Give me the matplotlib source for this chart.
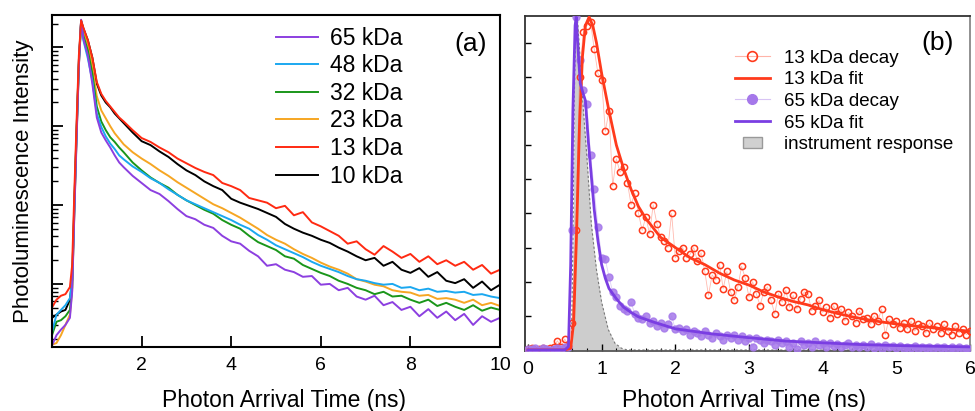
"""
Photoluminescence decay traces: (a) molecular weight series on a log axis,
(b) 13 kDa vs 65 kDa decays with fits and instrument response
"""
import numpy as np
import matplotlib
matplotlib.use("Agg")
import matplotlib.pyplot as plt
import matplotlib.patches as mpatches
from matplotlib.lines import Line2D
from matplotlib.legend_handler import HandlerPatch
from matplotlib.ticker import NullFormatter, MultipleLocator

plt.rcParams['font.family'] = ['Liberation Sans', 'DejaVu Sans']

# ---- panel (a): log10 of counts ----
T_A = [0.0, 0.1, 0.2, 0.3, 0.4, 0.45, 0.5, 0.55, 0.6, 0.65, 0.7, 0.8, 0.9, 1.0, 1.1,
       1.2, 1.3, 1.4, 1.5, 1.6, 1.8, 2.0, 2.2, 2.4, 2.6, 2.8, 3.0, 3.2, 3.4, 3.6, 3.8,
       4.0, 4.2, 4.4, 4.6, 4.8, 5.0, 5.2, 5.4, 5.6, 5.8, 6.0, 6.2, 6.4, 6.6, 6.8, 7.0,
       7.2, 7.4, 7.6, 7.8, 8.0, 8.2, 8.4, 8.6, 8.8, 9.0, 9.2, 9.4, 9.6, 9.8, 10.0]

LOG_10KDA = [0.57, 0.61, 0.65, 0.67, 0.80, 1.05, 2.06, 2.97, 3.84, 4.34, 4.24, 4.09, 3.87, 3.54, 3.39,
             3.30, 3.24, 3.16, 3.10, 3.04, 2.92, 2.81, 2.76, 2.68, 2.61, 2.52, 2.44, 2.38, 2.30, 2.24, 2.19,
             2.08, 2.03, 1.99, 1.95, 1.90, 1.85, 1.76, 1.70, 1.65, 1.61, 1.56, 1.52, 1.46, 1.41, 1.35, 1.30,
             1.33, 1.23, 1.28, 1.18, 1.14, 1.20, 1.09, 1.15, 1.04, 1.01, 1.06, 0.95, 1.03, 0.92, 0.99]
LOG_13KDA = [0.70, 0.80, 0.85, 0.87, 0.96, 1.24, 2.19, 3.08, 3.90, 4.34, 4.25, 4.09, 3.87, 3.56, 3.41,
             3.32, 3.25, 3.18, 3.11, 3.06, 2.95, 2.85, 2.80, 2.73, 2.67, 2.59, 2.53, 2.47, 2.42, 2.38, 2.28,
             2.24, 2.19, 2.09, 2.06, 2.03, 1.96, 1.99, 1.87, 1.91, 1.78, 1.73, 1.67, 1.61, 1.51, 1.54, 1.44,
             1.37, 1.48, 1.41, 1.33, 1.38, 1.28, 1.35, 1.25, 1.30, 1.23, 1.28, 1.18, 1.24, 1.13, 1.18]
LOG_23KDA = [0.23, 0.25, 0.35, 0.48, 0.61, 0.92, 1.94, 2.89, 3.77, 4.32, 4.22, 4.03, 3.76, 3.38, 3.20,
             3.10, 3.00, 2.91, 2.84, 2.77, 2.67, 2.59, 2.52, 2.44, 2.37, 2.29, 2.22, 2.15, 2.08, 2.01, 1.96,
             1.90, 1.84, 1.77, 1.70, 1.62, 1.56, 1.51, 1.44, 1.38, 1.33, 1.27, 1.22, 1.18, 1.13, 1.06, 1.03,
             0.99, 0.97, 0.92, 0.90, 0.89, 0.85, 0.86, 0.81, 0.82, 0.80, 0.76, 0.80, 0.73, 0.76, 0.72]
LOG_32KDA = [0.35, 0.52, 0.54, 0.59, 0.67, 0.95, 1.96, 2.91, 3.78, 4.32, 4.15, 3.96, 3.67, 3.25, 3.06,
             2.95, 2.86, 2.80, 2.73, 2.67, 2.54, 2.44, 2.35, 2.28, 2.22, 2.13, 2.06, 2.00, 1.94, 1.89, 1.81,
             1.75, 1.70, 1.61, 1.53, 1.48, 1.43, 1.35, 1.32, 1.24, 1.19, 1.14, 1.10, 1.04, 1.00, 0.95, 0.92,
             0.87, 0.90, 0.84, 0.85, 0.80, 0.76, 0.80, 0.72, 0.76, 0.71, 0.67, 0.73, 0.66, 0.70, 0.67]
LOG_48KDA = [0.39, 0.61, 0.67, 0.73, 0.82, 1.05, 2.00, 2.95, 3.81, 4.33, 4.09, 3.86, 3.58, 3.16, 2.99,
             2.87, 2.78, 2.71, 2.63, 2.58, 2.49, 2.42, 2.34, 2.28, 2.20, 2.13, 2.06, 2.01, 1.96, 1.91, 1.86,
             1.81, 1.75, 1.70, 1.62, 1.56, 1.49, 1.44, 1.39, 1.34, 1.28, 1.23, 1.19, 1.15, 1.10, 1.06, 1.04,
             1.01, 0.99, 1.00, 0.95, 0.96, 0.92, 0.94, 0.90, 0.91, 0.89, 0.90, 0.86, 0.87, 0.84, 0.82]
LOG_65KDA = [0.22, 0.35, 0.42, 0.48, 0.57, 0.90, 1.91, 2.85, 3.76, 4.35, 4.11, 3.90, 3.54, 3.11, 2.92,
             2.82, 2.73, 2.63, 2.54, 2.48, 2.37, 2.28, 2.19, 2.14, 2.05, 1.95, 1.86, 1.82, 1.75, 1.71, 1.61,
             1.54, 1.51, 1.42, 1.35, 1.23, 1.25, 1.18, 1.15, 1.09, 1.10, 0.99, 1.00, 0.92, 0.95, 0.84, 0.80,
             0.85, 0.73, 0.77, 0.67, 0.71, 0.59, 0.68, 0.57, 0.65, 0.54, 0.62, 0.48, 0.59, 0.52, 0.57]

LABELS_A = ['65 kDa', '48 kDa', '32 kDa', '23 kDa', '13 kDa', '10 kDa']
COLORS_A = ['#8c3fe0', '#1ba8f0', '#1a961a', '#f6a623', '#ff2a12', '#000000']

# ---- panel (b): normalised counts, 0.05 ns bins ----
T_B = np.round(np.arange(121) * 0.05, 2)

DECAY_13 = [0.003, 0.005, 0.000, 0.004, 0.006, 0.002, 0.005, 0.010, 0.027, 0.008, 0.032, 0.012,
            0.080, 0.35, 0.80, 0.93, 0.95, 0.96, 0.88, 0.81, 0.79, 0.64, 0.70, 0.48,
            0.56, 0.52, 0.535, 0.49, 0.425, 0.46, 0.40, 0.35, 0.39, 0.34, 0.425, 0.37,
            0.33, 0.32, 0.30, 0.40, 0.27, 0.29, 0.30, 0.27, 0.28, 0.30, 0.26, 0.285,
            0.23, 0.16, 0.22, 0.205, 0.25, 0.18, 0.23, 0.17, 0.145, 0.185, 0.245, 0.21,
            0.155, 0.20, 0.165, 0.13, 0.17, 0.185, 0.145, 0.105, 0.165, 0.14, 0.175, 0.125,
            0.16, 0.12, 0.15, 0.17, 0.165, 0.115, 0.13, 0.145, 0.11, 0.125, 0.095, 0.13,
            0.105, 0.12, 0.085, 0.11, 0.10, 0.08, 0.115, 0.09, 0.095, 0.075, 0.10, 0.085,
            0.12, 0.045, 0.09, 0.075, 0.085, 0.065, 0.08, 0.06, 0.085, 0.055, 0.075, 0.07,
            0.05, 0.08, 0.06, 0.07, 0.05, 0.075, 0.055, 0.045, 0.07, 0.05, 0.06, 0.045,
            0.055]
DECAY_65 = [0.004, 0.002, 0.006, 0.000, 0.005, 0.003, 0.000, 0.004, 0.006, 0.002, 0.008, 0.010,
            0.35, 0.975, 0.85, 0.76, 0.72, 0.57, 0.47, 0.36, 0.27, 0.265, 0.215, 0.17,
            0.155, 0.13, 0.12, 0.115, 0.14, 0.105, 0.095, 0.09, 0.10, 0.08, 0.085, 0.07,
            0.08, 0.065, 0.075, 0.10, 0.06, 0.065, 0.055, 0.06, 0.045, 0.055, 0.05, 0.04,
            0.055, 0.045, 0.035, 0.05, 0.04, 0.03, 0.045, 0.035, 0.045, 0.03, 0.04, 0.025,
            0.035, 0.01, 0.035, 0.03, 0.02, 0.03, 0.025, 0.015, 0.03, 0.02, 0.025, 0.01,
            0.02, 0.003, 0.025, 0.015, 0.02, 0.01, 0.025, 0.015, 0.02, 0.01, 0.02, 0.012,
            0.018, 0.008, 0.015, 0.02, 0.01, 0.015, 0.008, 0.015, 0.01, 0.018, 0.006, 0.012,
            0.004, 0.014, 0.008, 0.012, 0.006, 0.012, 0.004, 0.01, 0.006, 0.012, 0.004, 0.01,
            0.006, 0.009, 0.002, 0.01, 0.005, 0.008, 0.003, 0.009, 0.004, 0.008, 0.003, 0.007,
            0.004]

FIT_13_T = [0.0, 0.5, 0.58, 0.62, 0.66, 0.70, 0.74, 0.78, 0.83, 0.88, 0.93, 1.0, 1.1, 1.2, 1.3,
            1.4, 1.5, 1.6, 1.8, 2.0, 2.2, 2.4, 2.6, 2.8, 3.0, 3.2, 3.4, 3.6, 3.8, 4.0, 4.2, 4.4,
            4.6, 4.8, 5.0, 5.2, 5.4, 5.6, 5.8, 6.0]
FIT_13 = [0.0, 0.0, 0.005, 0.08, 0.34, 0.66, 0.86, 0.95, 0.975, 0.95, 0.90, 0.81, 0.70, 0.60, 0.53,
          0.47, 0.42, 0.385, 0.33, 0.30, 0.27, 0.25, 0.225, 0.205, 0.19, 0.17, 0.155, 0.142, 0.132,
          0.118, 0.107, 0.097, 0.089, 0.082, 0.076, 0.071, 0.067, 0.063, 0.059, 0.055]

FIT_65_T = [0.0, 0.5, 0.55, 0.58, 0.61, 0.64, 0.655, 0.68, 0.71, 0.75, 0.78, 0.82, 0.86, 0.9, 0.95,
            1.0, 1.05, 1.1, 1.2, 1.3, 1.4, 1.5, 1.7, 2.0, 2.5, 3.0, 3.5, 4.0, 4.5, 5.0, 5.5, 6.0]
FIT_65 = [0.0, 0.0, 0.01, 0.25, 0.70, 0.95, 0.975, 0.88, 0.78, 0.75, 0.73, 0.61, 0.51, 0.41, 0.32,
          0.25, 0.21, 0.18, 0.15, 0.125, 0.11, 0.097, 0.082, 0.062, 0.047, 0.036, 0.026, 0.021,
          0.016, 0.013, 0.011, 0.009]

IRF_T = [0.0, 0.55, 0.59, 0.61, 0.63, 0.65, 0.67, 0.70, 0.75, 0.80, 0.86, 0.93, 1.0, 1.09, 1.18,
         1.27, 1.35, 6.0]
IRF = [0.0, 0.0, 0.02, 0.30, 0.75, 0.95, 0.975, 0.88, 0.71, 0.565, 0.37, 0.235, 0.14, 0.06, 0.02,
       0.005, 0.0, 0.0]

RED = '#ff3a1c'
PURPLE = '#7a3ee2'
LAVENDER = '#a578ea'

fig = plt.figure(figsize=(9.75, 4.11), dpi=100)
ax1 = fig.add_axes([52 / 975, 64 / 411, 448 / 975, 332 / 411])
ax2 = fig.add_axes([525 / 975, 60 / 411, 445 / 975, 335 / 411])

# ---------- (a) ----------
series_a = [LOG_65KDA, LOG_48KDA, LOG_32KDA, LOG_23KDA, LOG_13KDA, LOG_10KDA]
draw_order = [5, 3, 2, 1, 0, 4]
handles = [None] * 6
for i in draw_order:
    line, = ax1.plot(T_A, 10 ** np.array(series_a[i]), color=COLORS_A[i], lw=1.4,
                     label=LABELS_A[i])
    handles[i] = line

ax1.set_yscale('log')
ax1.set_xlim(0, 10)
ax1.set_ylim(10 ** 0.2, 10 ** 4.41)
ax1.set_xticks([2, 4, 6, 8, 10])
ax1.yaxis.set_major_formatter(NullFormatter())
ax1.yaxis.set_minor_formatter(NullFormatter())
ax1.tick_params(axis='both', which='major', direction='in', length=8, width=1.3,
                labelsize=14, pad=7)
ax1.tick_params(axis='y', which='minor', direction='in', length=4, width=1.0)
for sp in ax1.spines.values():
    sp.set_linewidth(1.5)
ax1.set_xlabel('Photon Arrival Time (ns)', fontsize=16.5)
ax1.xaxis.set_label_coords(0.518, -0.125)
ax1.set_ylabel('Photoluminescence Intensity', fontsize=16, labelpad=6)
ax1.legend(handles=handles, loc='upper left', bbox_to_anchor=(0.50, 0.965),
           frameon=False, fontsize=16.5, handlelength=1.85, handletextpad=0.5,
           labelspacing=0.2, borderaxespad=0, borderpad=0)
ax1.text(0.935, 0.912, '(a)', transform=ax1.transAxes, fontsize=19,
         ha='center', va='center')

# ---------- (b) ----------
ax2.fill_between(IRF_T, IRF, 0, color='#cdcdcd', lw=0, zorder=1)
ax2.plot(IRF_T, IRF, color='#777777', lw=0.8, ls=(0, (2, 2)), zorder=2)

ax2.plot(T_B, DECAY_13, color=RED, lw=0.6, alpha=0.35, zorder=3)
ax2.plot(T_B, DECAY_13, ls='none', marker='o', ms=4.5, mfc='none', mec=RED, mew=1.1, zorder=4)
ax2.plot(FIT_13_T, FIT_13, color=RED, lw=2.0, zorder=5)

ax2.plot(T_B, DECAY_65, color=LAVENDER, lw=0.6, alpha=0.35, zorder=3)
ax2.plot(T_B, DECAY_65, ls='none', marker='o', ms=5, mfc=LAVENDER, mec=LAVENDER,
         alpha=0.85, zorder=4)
ax2.plot(FIT_65_T, FIT_65, color=PURPLE, lw=2.0, zorder=6)

ax2.set_xlim(-0.04, 6.0)
ax2.set_ylim(-0.003, 0.978)
ax2.set_xticks([0, 1, 2, 3, 4, 5, 6])
ax2.xaxis.set_minor_locator(MultipleLocator(0.2))
ax2.yaxis.set_major_locator(MultipleLocator(0.1))
ax2.yaxis.set_major_formatter(NullFormatter())
ax2.tick_params(axis='x', which='major', direction='in', length=5, width=1.0,
                labelsize=14, pad=7)
ax2.tick_params(axis='x', which='minor', direction='in', length=2, width=0.8)
ax2.tick_params(axis='y', which='major', direction='in', length=4, width=1.0)
ax2.spines['left'].set_color('#333333')
ax2.spines['top'].set_color('#333333')
ax2.spines['right'].set_color('#888888')
ax2.spines['bottom'].set_color('#555555')
for sp in ax2.spines.values():
    sp.set_linewidth(1.3)
ax2.set_xlabel('Photon Arrival Time (ns)', fontsize=16.5)
ax2.xaxis.set_label_coords(0.492, -0.113)


def small_box(legend, orig_handle, xdescent, ydescent, width, height, fontsize):
    return mpatches.Rectangle((0.23 * width - xdescent, 0.05 * height - ydescent),
                              0.54 * width, 0.9 * height)


leg_b = [
    Line2D([], [], color='#ffb4a8', lw=0.8, marker='o', ms=7, mfc='none', mec=RED, mew=1.2),
    Line2D([], [], color=RED, lw=2.0),
    Line2D([], [], color='#d8c4f4', lw=0.8, marker='o', ms=7, mfc=LAVENDER, mec=LAVENDER),
    Line2D([], [], color=PURPLE, lw=2.0),
    mpatches.Patch(facecolor='#d0d0d0', edgecolor='#999999', lw=1.0),
]
leg_lab = ['13 kDa decay', '13 kDa fit', '65 kDa decay', '65 kDa fit', 'instrument response']
ax2.legend(leg_b, leg_lab, loc='upper left', bbox_to_anchor=(0.472, 0.90),
           frameon=False, fontsize=13.5, handlelength=1.85, handletextpad=0.75,
           labelspacing=0.24, borderaxespad=0, borderpad=0,
           handler_map={mpatches.Patch: HandlerPatch(patch_func=small_box)})
ax2.text(0.928, 0.918, '(b)', transform=ax2.transAxes, fontsize=19,
         ha='center', va='center')

fig.savefig('out.png', dpi=100)
